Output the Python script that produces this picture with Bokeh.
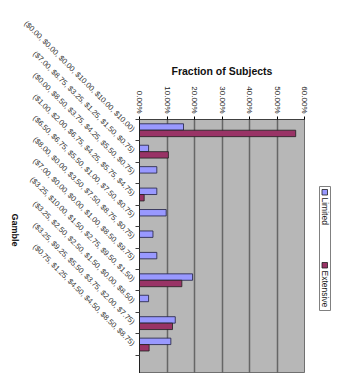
import math
from bokeh.plotting import figure
from bokeh.models import (Range1d, FixedTicker, NumeralTickFormatter, Label)
from bokeh.layouts import row
from bokeh.embed import file_html
from bokeh.resources import INLINE

categories = [
    "($0.00, $0.00, $0.00, $10.00, $10.00, $10.00)",
    "($7.00, $8.75, $3.25, $1.25, $1.50, $0.75)",
    "($0.00, $8.50, $3.75, $4.25, $5.50, $0.75)",
    "($1.00, $2.00, $6.75, $4.25, $5.75, $4.75)",
    "($6.50, $6.75, $5.50, $1.00, $7.50, $0.75)",
    "($8.00, $0.00, $3.50, $7.50, $8.75, $0.75)",
    "($7.00, $0.00, $0.00, $1.00, $8.50, $9.75)",
    "($3.25, $10.00, $1.50, $2.75, $9.50, $1.50)",
    "($3.25, $2.50, $2.50, $1.50, $0.00, $8.50)",
    "($3.25, $9.25, $5.50, $3.75, $2.00, $7.75)",
    "($0.75, $1.25, $4.50, $4.50, $8.50, $8.75)",
]
limited = [0.160, 0.033, 0.063, 0.063, 0.097, 0.049, 0.063, 0.193, 0.033, 0.130, 0.114]
extensive = [0.568, 0.105, 0.0, 0.017, 0.0, 0.0, 0.0, 0.154, 0.0, 0.120, 0.035]
x_ticks = [0.0, 0.1, 0.2, 0.3, 0.4, 0.5, 0.6]
series_names = ["Limited", "Extensive"]
colors = ["#9999FF", "#993366"]

n = len(categories)
centers = [i + 0.5 for i in range(n)]
y_lim = [c - 0.15 for c in centers]
y_ext = [c + 0.15 for c in centers]

p = figure(width=312, height=373, output_backend="svg", toolbar_location=None,
           x_range=Range1d(0, 0.6), y_range=Range1d(n + 0.85, 0),
           x_axis_location="above", min_border_left=139, min_border_right=8,
           min_border_top=119, min_border_bottom=0, frame_width=165, frame_height=254)
p.background_fill_color = "#B7B7B7"
p.border_fill_color = "white"
p.outline_line_color = "#707070"

p.hbar(y=y_lim, right=limited, left=0, height=0.3, fill_color=colors[0],
       line_color="#202040", line_width=0.8)
p.hbar(y=y_ext, right=extensive, left=0, height=0.3, fill_color=colors[1],
       line_color="#202020", line_width=0.8)

# x axis (top)
xa = p.xaxis[0]
xa.ticker = FixedTicker(ticks=x_ticks)
xa.formatter = NumeralTickFormatter(format="0.00%")
xa.major_label_orientation = -math.pi / 2
xa.major_label_text_font = "Liberation Sans"
xa.major_label_text_font_size = "8px"
xa.major_label_text_color = "#222222"
xa.major_tick_out = 3
xa.major_tick_in = 0
xa.minor_tick_line_color = None
xa.axis_line_color = "#404040"
xa.axis_label = "Fraction of Subjects"
xa.axis_label_text_font = "Liberation Sans"
xa.axis_label_text_font_style = "bold"
xa.axis_label_text_font_size = "10.5px"
xa.axis_label_text_color = "#111111"
xa.axis_label_standoff = 6
xa.major_label_standoff = 3

p.xgrid.ticker = FixedTicker(ticks=x_ticks)
p.xgrid.grid_line_color = "#666666"
p.xgrid.grid_line_width = 1.5
p.ygrid.grid_line_color = None

ya = p.yaxis[0]
ya.ticker = FixedTicker(ticks=centers, minor_ticks=list(range(n + 1)))
ya.major_label_overrides = {c: lab for c, lab in zip(centers, categories)}
ya.major_label_orientation = -math.pi / 4
ya.major_label_text_font = "Liberation Sans"
ya.major_label_text_font_size = "7.6px"
ya.major_label_text_color = "#333333"
ya.major_tick_out = 0
ya.major_tick_in = 0
ya.minor_tick_out = 4
ya.minor_tick_in = 0
ya.minor_tick_line_color = "#404040"
ya.axis_line_color = "#202020"
ya.major_label_standoff = 2

if hasattr(ya, "axis_label_orientation"):
    ya.axis_label = "Gamble"
    ya.axis_label_orientation = -math.pi / 2
    ya.axis_label_text_font = "Liberation Sans"
    ya.axis_label_text_font_style = "bold"
    ya.axis_label_text_font_size = "9px"
    ya.axis_label_text_color = "#111111"
    ya.axis_label_standoff = 1
else:
    p.add_layout(Label(x=15, y=128, x_units="screen", y_units="screen",
                       text="Gamble", angle=-math.pi / 2, text_align="center",
                       text_baseline="middle", text_font="Liberation Sans",
                       text_font_style="bold", text_font_size="9px",
                       text_color="#111111"))

# legend panel (rotated legend)
leg = figure(width=31, height=373, output_backend="svg", toolbar_location=None,
             x_range=Range1d(312, 343), y_range=Range1d(373, 119),
             frame_width=31, frame_height=254,
             min_border_left=0, min_border_right=0,
             min_border_top=119, min_border_bottom=0)
leg.axis.visible = False
leg.grid.visible = False
leg.outline_line_color = None
leg.background_fill_color = "white"
leg.border_fill_color = "white"
leg.quad(left=[319], right=[330], top=[186], bottom=[310], fill_color="white",
         line_color="#808080", line_width=1)
leg.quad(left=[321.5, 321.5], right=[327, 327], top=[189, 262], bottom=[194.5, 267.5],
         fill_color=colors, line_color="#202020", line_width=0.8)
leg.text(x=[324.5, 324.5], y=[197, 270], text=series_names, angle=-math.pi / 2,
         text_align="left", text_baseline="middle", text_font_size="8.5px",
         text_color="#222222")

layout = row(p, leg, spacing=0)
open("out.html", "w").write(file_html(layout, INLINE))
